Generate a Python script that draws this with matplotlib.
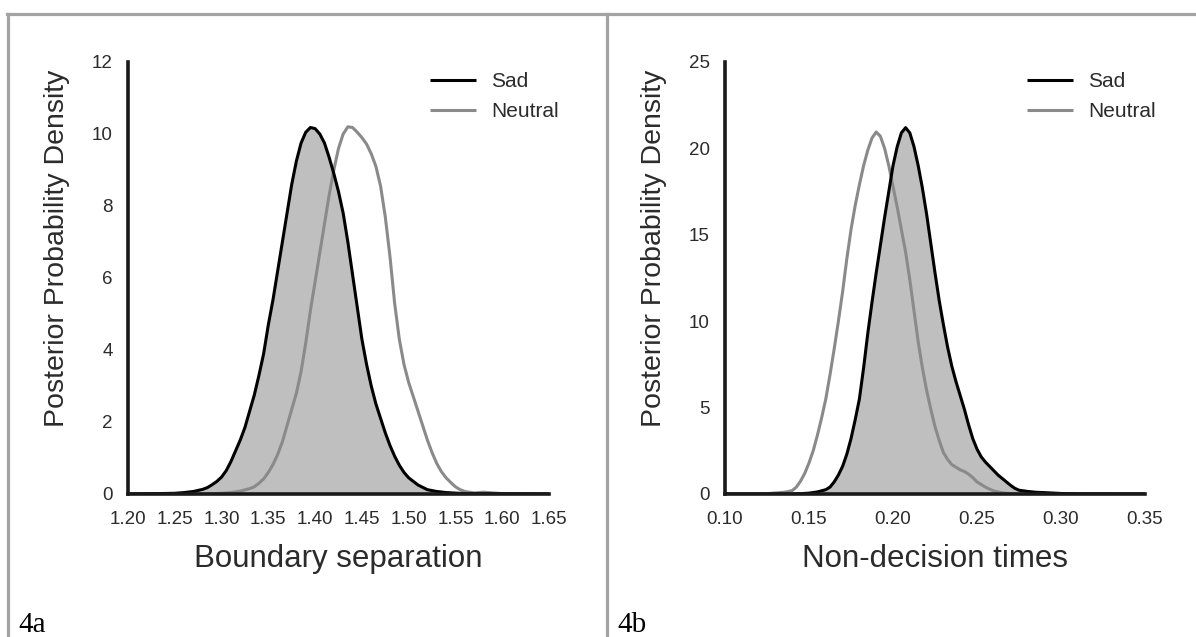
#!/usr/bin/env python
# coding: utf-8

# Posterior densities of the drift model parameters, sad vs neutral

import matplotlib.pyplot as plt
from matplotlib.lines import Line2D

plt.rcParams['font.family'] = ['Liberation Sans', 'DejaVu Sans']

# -------------------- 4a: boundary separation
bound_sad_x = [1.20, 1.23, 1.25, 1.26, 1.27, 1.28, 1.285, 1.29, 1.295, 1.30,
               1.305, 1.31, 1.315, 1.32, 1.325, 1.33, 1.335, 1.34, 1.345, 1.35,
               1.355, 1.36, 1.365, 1.37, 1.375, 1.38, 1.385, 1.39, 1.395, 1.40,
               1.405, 1.41, 1.415, 1.42, 1.425, 1.43, 1.435, 1.44, 1.445, 1.45,
               1.455, 1.46, 1.465, 1.47, 1.475, 1.48, 1.485, 1.49, 1.495, 1.50,
               1.51, 1.52, 1.53, 1.54, 1.56, 1.65]
bound_sad_y = [0.0, 0.01, 0.02, 0.04, 0.07, 0.13, 0.18, 0.26, 0.35, 0.47,
               0.65, 0.9, 1.2, 1.5, 1.85, 2.3, 2.75, 3.3, 3.9, 4.7,
               5.4, 6.2, 7.0, 7.8, 8.6, 9.25, 9.75, 10.05, 10.18, 10.15,
               10.0, 9.75, 9.35, 8.9, 8.4, 7.8, 7.0, 6.1, 5.2, 4.3,
               3.6, 3.0, 2.5, 2.1, 1.7, 1.35, 1.05, 0.8, 0.6, 0.45,
               0.25, 0.12, 0.07, 0.04, 0.01, 0.0]

bound_neu_x = [1.20, 1.28, 1.30, 1.31, 1.32, 1.33, 1.335, 1.34, 1.345, 1.35,
               1.355, 1.36, 1.365, 1.37, 1.375, 1.38, 1.385, 1.39, 1.395, 1.40,
               1.405, 1.41, 1.415, 1.42, 1.425, 1.43, 1.435, 1.44, 1.445, 1.45,
               1.455, 1.46, 1.465, 1.47, 1.475, 1.48, 1.485, 1.49, 1.495, 1.50,
               1.505, 1.51, 1.515, 1.52, 1.525, 1.53, 1.535, 1.54, 1.545, 1.55,
               1.555, 1.56, 1.57, 1.58, 1.59, 1.60, 1.65]
bound_neu_y = [0.0, 0.0, 0.02, 0.04, 0.08, 0.15, 0.2, 0.3, 0.42, 0.6,
               0.82, 1.1, 1.45, 1.9, 2.35, 2.8, 3.4, 4.2, 5.1, 5.9,
               6.7, 7.5, 8.3, 9.0, 9.6, 10.0, 10.2, 10.18, 10.05, 9.9,
               9.72, 9.45, 9.1, 8.55, 7.7, 6.6, 5.3, 4.3, 3.6, 3.1,
               2.7, 2.3, 1.9, 1.5, 1.15, 0.85, 0.62, 0.45, 0.32, 0.2,
               0.12, 0.07, 0.03, 0.05, 0.03, 0.01, 0.0]

# -------------------- 4b: non-decision times
ndt_sad_x = [0.10, 0.14, 0.145, 0.15, 0.155, 0.16, 0.1625, 0.165, 0.1675, 0.17,
             0.1725, 0.175, 0.1775, 0.18, 0.1825, 0.185, 0.1875, 0.19, 0.1925, 0.195,
             0.1975, 0.20, 0.2025, 0.205, 0.2075, 0.21, 0.2125, 0.215, 0.2175, 0.22,
             0.2225, 0.225, 0.2275, 0.23, 0.2325, 0.235, 0.2375, 0.24, 0.2425, 0.245,
             0.2475, 0.25, 0.2525, 0.255, 0.2575, 0.26, 0.2625, 0.265, 0.2675, 0.27,
             0.2725, 0.275, 0.28, 0.285, 0.29, 0.30, 0.31, 0.35]
ndt_sad_y = [0.0, 0.0, 0.02, 0.05, 0.12, 0.25, 0.4, 0.7, 1.1, 1.6,
             2.3, 3.2, 4.3, 5.5, 7.3, 9.3, 11.1, 12.8, 14.4, 16.0,
             17.5, 19.0, 20.1, 20.9, 21.2, 20.9, 20.1, 19.0, 17.7, 16.2,
             14.5, 12.8, 11.2, 9.8, 8.5, 7.4, 6.5, 5.7, 4.9, 4.0,
             3.2, 2.6, 2.15, 1.85, 1.6, 1.35, 1.1, 0.9, 0.7, 0.5,
             0.33, 0.22, 0.15, 0.1, 0.08, 0.03, 0.01, 0.0]

ndt_neu_x = [0.10, 0.12, 0.125, 0.13, 0.135, 0.1375, 0.14, 0.1425, 0.145, 0.1475,
             0.15, 0.1525, 0.155, 0.1575, 0.16, 0.1625, 0.165, 0.1675, 0.17, 0.1725,
             0.175, 0.1775, 0.18, 0.1825, 0.185, 0.1875, 0.19, 0.1925, 0.195, 0.1975,
             0.20, 0.2025, 0.205, 0.2075, 0.21, 0.2125, 0.215, 0.2175, 0.22, 0.2225,
             0.225, 0.2275, 0.23, 0.2325, 0.235, 0.2375, 0.24, 0.2425, 0.245, 0.2475,
             0.25, 0.2525, 0.255, 0.2575, 0.26, 0.265, 0.27, 0.28, 0.35]
ndt_neu_y = [0.0, 0.0, 0.02, 0.06, 0.1, 0.14, 0.2, 0.4, 0.75, 1.2,
             1.8, 2.5, 3.4, 4.4, 5.5, 6.9, 8.4, 10.0, 11.7, 13.6,
             15.3, 16.7, 17.9, 19.0, 19.9, 20.6, 20.95, 20.7, 20.0, 19.0,
             17.8, 16.6, 15.3, 14.0, 12.4, 10.6, 8.8, 7.3, 6.0, 4.9,
             3.9, 3.1, 2.4, 2.0, 1.7, 1.55, 1.4, 1.3, 1.15, 0.95,
             0.7, 0.55, 0.4, 0.28, 0.18, 0.07, 0.02, 0.0, 0.0]

bound_xticks = [1.20, 1.25, 1.30, 1.35, 1.40, 1.45, 1.50, 1.55, 1.60, 1.65]
bound_yticks = [0, 2, 4, 6, 8, 10, 12]
ndt_xticks = [0.10, 0.15, 0.20, 0.25, 0.30, 0.35]
ndt_yticks = [0, 5, 10, 15, 20, 25]

labels = ['Sad', 'Neutral']
# -------------------- 

W, H = 1196, 637
text_col = '#2b2b2b'
fill_col = '#bfbfbf'
neu_col = '#8a8a8a'

fig = plt.figure(figsize=(W / 100, H / 100), dpi=100)

# axes boxes in pixels: left, right, top, bottom
boxes = [(128, 549, 62, 494), (725, 1145, 62, 494)]
panels = [
    (bound_sad_x, bound_sad_y, bound_neu_x, bound_neu_y, bound_xticks, bound_yticks,
     'Boundary separation', '4a', 18),
    (ndt_sad_x, ndt_sad_y, ndt_neu_x, ndt_neu_y, ndt_xticks, ndt_yticks,
     'Non-decision times', '4b', 617),
]

for (l, r, t, b), panel in zip(boxes, panels):
    sx, sy, nx, ny, xt, yt, xlab, tag, tag_x = panel
    ax = fig.add_axes([l / W, 1 - b / H, (r - l) / W, (b - t) / H])

    ax.fill_between(sx, sy, 0, color=fill_col, lw=0)
    ax.plot(nx, ny, color=neu_col, lw=2.2, label=labels[1], solid_capstyle='butt')
    ax.plot(sx, sy, color='black', lw=2.2, label=labels[0], solid_capstyle='butt')

    ax.set_xlim(xt[0], xt[-1])
    ax.set_ylim(yt[0], yt[-1])
    ax.set_xticks(xt)
    ax.set_xticklabels(['%.2f' % v for v in xt])
    ax.set_yticks(yt)
    ax.tick_params(length=0, labelsize=13.5, labelcolor=text_col)
    ax.tick_params(axis='x', pad=12)
    ax.tick_params(axis='y', pad=11)

    for side in ['top', 'right']:
        ax.spines[side].set_visible(False)
    for side in ['left', 'bottom']:
        ax.spines[side].set_linewidth(2.6)
        ax.spines[side].set_color('#1a1a1a')

    # reorder legend so Sad comes first
    h, lab = ax.get_legend_handles_labels()
    ax.legend(h[::-1], lab[::-1], frameon=False, fontsize=15,
              loc='upper left', bbox_to_anchor=((l + 302) / W, 1 - 72 / H),
              bbox_transform=fig.transFigure, borderpad=0, borderaxespad=0,
              handlelength=2.2, handletextpad=0.75, labelspacing=0.55,
              labelcolor=text_col)

    fig.text((l - 71) / W, 1 - 248 / H, 'Posterior Probability Density',
             rotation=90, ha='center', va='center', fontsize=20.5, color=text_col)
    fig.text((l + r) / 2 / W, 1 - 567 / H, xlab, ha='center', va='baseline',
             fontsize=22.5, color=text_col)
    fig.text(tag_x / W, 1 - 632 / H, tag, ha='left', va='baseline',
             fontsize=21, color='black', family='Liberation Serif')

# gray frame around the two panels
frame_col = '#a3a3a3'
fig.add_artist(Line2D([7 / W, 1], [1 - 13.5 / H, 1 - 13.5 / H], color=frame_col,
                      lw=2.3, transform=fig.transFigure))
fig.add_artist(Line2D([8 / W, 8 / W], [0, 1 - 13.5 / H], color=frame_col,
                      lw=2.3, transform=fig.transFigure))
fig.add_artist(Line2D([606.5 / W, 606.5 / W], [0, 1 - 13.5 / H], color=frame_col,
                      lw=2.3, transform=fig.transFigure))

fig.savefig('out.png', dpi=100)
